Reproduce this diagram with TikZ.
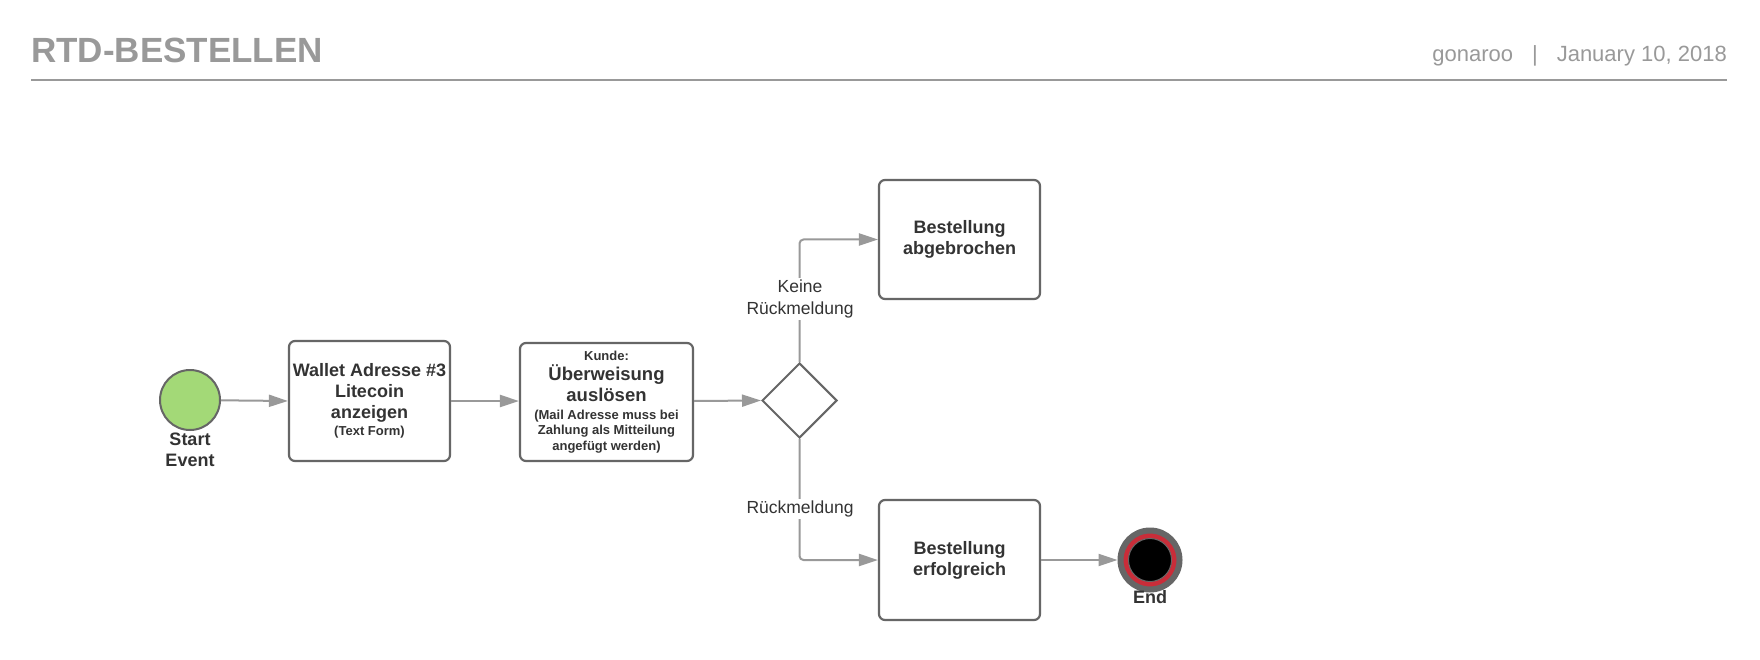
\documentclass[tikz,border=0pt]{standalone}
\usepackage{fontspec}
\setmainfont{Liberation Sans}
\usetikzlibrary{arrows.meta,shapes.geometric}
\definecolor{titlegray}{HTML}{999999}
\definecolor{boxgray}{HTML}{666666}
\definecolor{linegray}{HTML}{999999}
\definecolor{txt}{HTML}{333333}
\definecolor{startgreen}{HTML}{A3D977}
\definecolor{endred}{HTML}{C92D39}
\newcommand{\smtxt}{\fontsize{13}{15.5}\selectfont}
\newcommand{\bigtxt}{\fontsize{18.5}{21}\selectfont}
\begin{document}
\begin{tikzpicture}[x=1pt,y=-1pt,
  taskbox/.style={draw=boxgray, line width=2.2pt, rounded corners=6pt, fill=white,
    minimum width=161pt, minimum height=120pt, inner sep=0pt, align=center,
    text=txt, font=\fontsize{18}{21}\selectfont\bfseries},
  flow/.style={draw=linegray, line width=2pt, rounded corners=4pt,
    -{Triangle[length=19pt,width=12pt]}},
  flowlabel/.style={fill=white, inner sep=2pt, align=center, text=txt,
    font=\fontsize{17.5}{22}\selectfont},
  eventlabel/.style={inner sep=0pt, align=center, text=txt,
    font=\fontsize{18}{21}\selectfont\bfseries}]
  \fill[white] (0,0) rectangle (1760,660);
  \useasboundingbox (0,0) rectangle (1760,660);

  % header
  \node[anchor=base west, inner sep=0pt, text=titlegray,
        font=\fontsize{35}{42}\selectfont\bfseries] (title) at (31,63) {RTD-BESTELLEN};
  \node[anchor=base east, inner sep=0pt, text=titlegray,
        font=\fontsize{22}{26}\selectfont] (date) at (1727,62)
        {gonaroo\hspace{19pt}|\hspace{19pt}January 10, 2018};
  \coordinate (hl) at (31,80);
  \coordinate (hr) at (1727,80);
  \draw[titlegray, line width=2pt] (hl) -- (hr);

  % start event
  \node[circle, draw=boxgray, line width=2pt, fill=startgreen, minimum size=60pt,
        inner sep=0pt] (start) at (190,400) {};
  \node[eventlabel] (startlbl) at (190,449.5) {Start\\Event};

  % tasks
  \node[taskbox, minimum width=161pt, minimum height=120pt] (box1) at (369.5,401)
    {Wallet Adresse \#3\\Litecoin\\anzeigen\\[-4pt]\smtxt (Text Form)};
  \node[taskbox, minimum width=173pt, minimum height=118pt] (box2) at (606.5,402)
    {\smtxt Kunde:\\[-0.5pt]\bigtxt \"Uberweisung\\\bigtxt auslösen\\[-2.7pt]\smtxt (Mail Adresse muss bei\\[-6pt]\smtxt Zahlung als Mitteilung\\[-5.5pt]\smtxt angefügt werden)};
  \node[taskbox, minimum width=161pt, minimum height=119pt] (box3) at (959.5,239.5)
    {Bestellung\\abgebrochen};
  \node[taskbox, minimum width=161pt, minimum height=120pt] (box4) at (959.5,560)
    {Bestellung\\erfolgreich};

  % gateway
  \node[diamond, draw=boxgray, line width=2pt, fill=white, minimum width=75pt,
        minimum height=75pt, inner sep=0pt] (gw) at (799.5,400.5) {};

  % end event
  \node[circle, draw=boxgray, line width=6pt, fill=endred, minimum size=59pt,
        inner sep=0pt] (endev) at (1150,560) {};
  \node[circle, draw=boxgray, line width=1pt, fill=black, minimum size=43pt,
        inner sep=0pt] (endin) at (1150,560) {};
  \node[eventlabel] (endlbl) at (1150,597) {End};

  % flows
  \draw[flow] (start) -- (box1.west);
  \draw[flow] (box1.east) -- (box2.west |- box1.east);
  \draw[flow] (box2.east |- box1.east) -- (gw.west);
  \draw[flow] (gw.north) |- (box3.west);
  \draw[flow] (gw.south) |- (box4.west);
  \draw[flow] (box4.east) -- (endev.west);

  % flow labels
  \node[flowlabel] (lblno) at (800,299) {Keine\\Rückmeldung};
  \node[flowlabel] (lblyes) at (800,509) {Rückmeldung};
\end{tikzpicture}
\end{document}
